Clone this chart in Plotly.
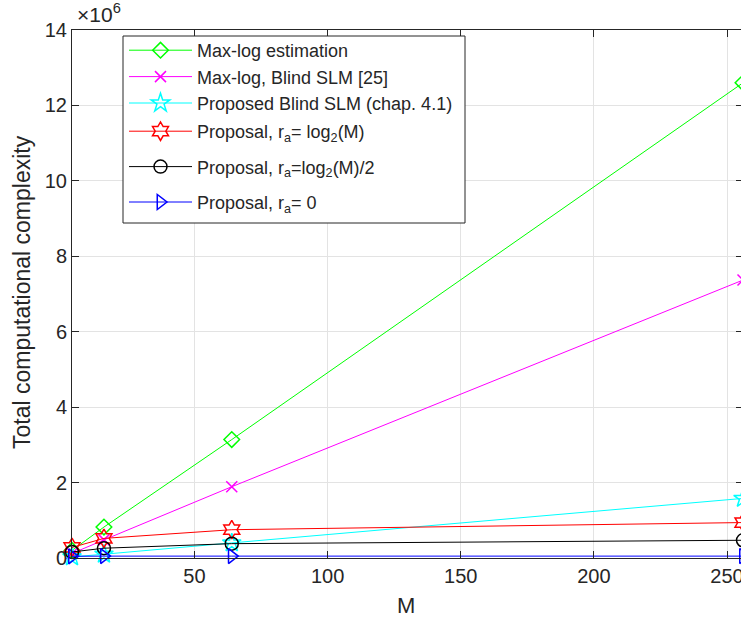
import plotly.graph_objects as go

M = [4, 16, 64, 256]
maxlog_est = [0.20e6, 0.82e6, 3.14e6, 12.6e6]
maxlog_blind = [0.12e6, 0.48e6, 1.89e6, 7.37e6]
proposed_blind = [0.03e6, 0.10e6, 0.40e6, 1.58e6]
prop_full = [0.28e6, 0.52e6, 0.75e6, 0.94e6]
prop_half = [0.16e6, 0.26e6, 0.38e6, 0.47e6]
prop_zero = [0.045e6, 0.05e6, 0.05e6, 0.05e6]

x_ticks = [50, 100, 150, 200, 250]
y_ticks = [0, 2e6, 4e6, 6e6, 8e6, 10e6, 12e6, 14e6]
y_ticktext = ["0", "2", "4", "6", "8", "10", "12", "14"]

names = [
    "Max-log estimation",
    "Max-log, Blind SLM [25]",
    "Proposed Blind SLM (chap. 4.1)",
    "Proposal, r<sub>a</sub>= log<sub>2</sub>(M)",
    "Proposal, r<sub>a</sub>=log<sub>2</sub>(M)/2",
    "Proposal, r<sub>a</sub>= 0",
]
series = [maxlog_est, maxlog_blind, proposed_blind, prop_full, prop_half, prop_zero]
colors = ["#00ff00", "#ff00ff", "#00ffff", "#ff0000", "#000000", "#0000ff"]
symbols = ["diamond-open", "x-thin-open", "star-open", "hexagram-open", "circle-open", "triangle-right-open"]
sizes = [12, 11, 14, 14, 13, 13]
legend_ids = ["legend", "legend", "legend", "legend2", "legend2", "legend2"]

FONT = "Liberation Sans, Arial, Helvetica, sans-serif"
AX = "#262626"

# figure is 743 wide (the window shows 741, as in the reference, whose box is cut)
# plot area in screen px: left 72, right 743, top 30, bottom 558
def px_x(p):
    return (p - 72) / 671.0

def px_y(p):
    return (558 - p) / 528.0

fig = go.Figure()
for i, (n, s, c, sym, sz, lg) in enumerate(zip(names, series, colors, symbols, sizes, legend_ids)):
    fig.add_trace(go.Scatter(
        x=M, y=s, name=n, mode="lines+markers",
        line=dict(color=c, width=1),
        marker=dict(symbol=sym, size=sz, color=c, line=dict(color=c, width=1.5)),
        cliponaxis=False, legend=lg, legendgroup="g%d" % i,
    ))

leg_common = dict(
    xanchor="left", yanchor="top", bgcolor="rgba(0,0,0,0)", borderwidth=0,
    font=dict(size=18, color=AX), itemwidth=63,
)

fig.update_layout(
    width=743, height=623,
    margin=dict(l=72, r=0, t=30, b=65),
    paper_bgcolor="white", plot_bgcolor="white",
    font=dict(family=FONT, size=20, color=AX),
    showlegend=True,
    legend=dict(x=px_x(124), y=px_y(32), tracegroupgap=0, **leg_common),
    legend2=dict(x=px_x(124), y=px_y(113), tracegroupgap=9, **leg_common),
    xaxis=dict(
        range=[4, 256], tickvals=x_ticks, ticks="inside", ticklen=7,
        tickcolor=AX, showline=True, linecolor=AX, linewidth=1, mirror="ticks",
        showgrid=True, gridcolor="#e3e3e3", zeroline=False,
        tickfont=dict(size=20, color=AX), ticklabeloverflow="allow",
    ),
    yaxis=dict(
        range=[0, 14e6], tickvals=y_ticks, ticktext=y_ticktext, ticks="inside",
        ticklen=7, tickcolor=AX, showline=True, linecolor=AX, linewidth=1,
        mirror="ticks", showgrid=True, gridcolor="#e3e3e3", zeroline=False,
        tickfont=dict(size=20, color=AX),
    ),
    shapes=[
        dict(type="rect", xref="paper", yref="paper",
             x0=px_x(123), x1=px_x(465), y0=px_y(223), y1=px_y(36),
             fillcolor="white", line=dict(color=AX, width=1), layer="above"),
    ],
    annotations=[
        dict(text="Total computational complexity", textangle=-90,
             xref="paper", yref="paper", x=px_x(22), y=px_y(292),
             xanchor="center", yanchor="middle", showarrow=False,
             font=dict(size=23, color=AX)),
        dict(text="M", xref="paper", yref="paper", x=px_x(406), y=px_y(605),
             xanchor="center", yanchor="middle", showarrow=False,
             font=dict(size=22, color=AX)),
        dict(text="×10<sup>6</sup>", xref="paper", yref="paper",
             x=px_x(75), y=px_y(28), xanchor="left", yanchor="bottom",
             showarrow=False, font=dict(size=21, color=AX)),
    ],
)

fig.write_html(
    "out.html",
    config={"displayModeBar": False},
    post_script="document.body.style.margin='0';document.body.style.overflow='hidden';",
)
